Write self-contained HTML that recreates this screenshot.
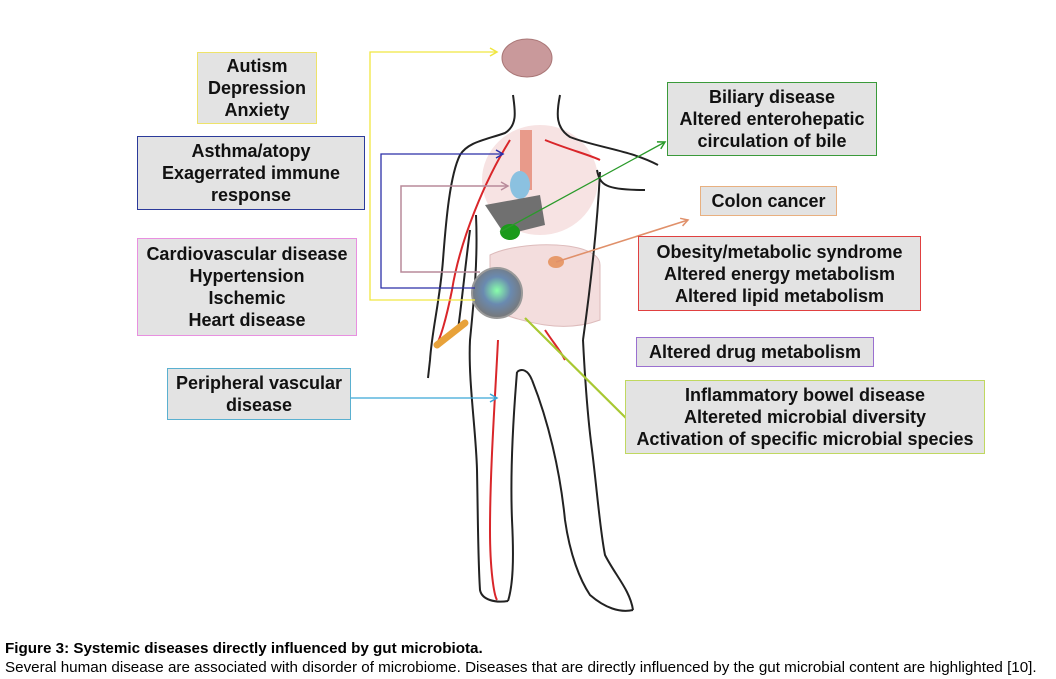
<!DOCTYPE html>
<html><head><meta charset="utf-8"><style>
body{margin:0;width:1056px;height:679px;background:#fff;position:relative;overflow:hidden;font-family:"Liberation Sans",Arial,sans-serif}
.b{position:absolute;box-sizing:border-box;background:#e3e3e3;border:1.5px solid;font-weight:bold;font-size:18px;line-height:22px;text-align:center;color:#111;display:flex;flex-direction:column;justify-content:center;white-space:nowrap}
svg{position:absolute;left:0;top:0}
.cap{position:absolute;left:5px;font-size:15.2px;color:#000;white-space:nowrap}
</style></head><body>
<svg width="1056" height="679" viewBox="0 0 1056 679">
<defs>
<marker id="a" markerWidth="10" markerHeight="10" refX="8" refY="5" orient="auto" markerUnits="userSpaceOnUse"><path d="M1,1 L8,5 L1,9" fill="none" stroke="context-stroke" stroke-width="1.5"/></marker>
<radialGradient id="lens" cx="50%" cy="45%" r="55%"><stop offset="0" stop-color="#8fa"/><stop offset="0.5" stop-color="#6a8ab0"/><stop offset="1" stop-color="#777"/></radialGradient>
</defs>
<ellipse cx="527" cy="58" rx="25" ry="19" fill="#c9999b" stroke="#a77" />
<ellipse cx="540" cy="180" rx="58" ry="55" fill="#f7e3e3"/>
<rect x="520" y="130" width="12" height="60" fill="#e89a8a"/>
<ellipse cx="520" cy="185" rx="10" ry="14" fill="#8bc1e0"/>
<path d="M485,205 L540,195 L545,225 L505,235 Z" fill="#707070"/>
<ellipse cx="510" cy="232" rx="10" ry="8" fill="#1a9a1a"/>
<path d="M490,255 C520,240 600,240 600,265 L600,320 C560,335 520,320 490,310 Z" fill="#f3dddd" stroke="#dbb" />
<ellipse cx="556" cy="262" rx="8" ry="6" fill="#e79a6b"/>
<g fill="none" stroke="#d9262a" stroke-width="2">
<path d="M510,140 C485,180 460,240 452,290 C446,320 440,340 436,345"/>
<path d="M545,140 C570,150 590,155 600,160"/>
<path d="M498,340 C495,400 490,470 490,530 C490,570 494,595 497,600"/>
<path d="M545,330 C555,345 560,350 565,360"/>
</g>
<g fill="none" stroke="#222" stroke-width="2">
<path d="M513,95 C515,110 518,125 505,133 C485,140 468,142 460,155 C450,175 446,220 443,260 C440,300 432,330 430,360 L428,378"/>
<path d="M470,230 C466,260 462,300 458,330"/>
<path d="M476,215 C478,260 474,300 470,340 C468,380 476,430 477,470 C478,520 478,560 480,590 C482,600 495,603 508,601"/>
<path d="M517,372 C513,420 510,470 512,520 C514,560 513,585 508,601"/>
<path d="M517,372 C522,368 528,370 532,380"/>
<path d="M532,380 C548,420 560,470 565,520 C570,555 580,580 590,595 C605,608 620,613 633,610"/>
<path d="M583,340 C585,380 588,420 592,450 C597,490 600,530 605,555 C615,575 630,590 633,610"/>
<path d="M600,172 C597,230 590,290 583,340"/>
<path d="M560,95 C556,115 556,128 570,137 C595,147 630,150 658,165"/>
<path d="M597,170 C600,185 605,190 645,190"/>
</g>
<circle cx="497" cy="293" r="25" fill="url(#lens)" stroke="#999" stroke-width="2"/>
<path d="M465,323 L437,345" stroke="#e8a23a" stroke-width="7" stroke-linecap="round"/>
<g fill="none" stroke-width="1.3">
<path d="M475,300 L370,300 L370,52 L497,52" stroke="#f0e640" marker-end="url(#a)"/>
<path d="M475,288 L381,288 L381,154 L503,154" stroke="#2b2fa8" marker-end="url(#a)"/>
<path d="M480,272 L401,272 L401,186 L508,186" stroke="#b88a9a" stroke-width="1.5" marker-end="url(#a)"/>
<path d="M500,232 L665,142" stroke="#2a9a2a" marker-end="url(#a)"/>
<path d="M556,262 L688,220" stroke="#e0906a" stroke-width="1.6" marker-end="url(#a)"/>
<path d="M350,398 L497,398" stroke="#3aa6d8" marker-end="url(#a)"/>
<path d="M525,318 L636,428" stroke="#a8c832" stroke-width="2.2" marker-end="url(#a)"/>
</g>
</svg>
<div class="b" style="left:197px;top:52px;width:120px;height:72px;border-color:#eee36a">Autism<br>Depression<br>Anxiety</div>
<div class="b" style="left:137px;top:136px;width:228px;height:74px;border-color:#2b3a9a">Asthma/atopy<br>Exagerrated immune<br>response</div>
<div class="b" style="left:137px;top:238px;width:220px;height:98px;border-color:#e890e0">Cardiovascular disease<br>Hypertension<br>Ischemic<br>Heart disease</div>
<div class="b" style="left:167px;top:368px;width:184px;height:52px;border-color:#5ab0d0">Peripheral vascular<br>disease</div>
<div class="b" style="left:667px;top:82px;width:210px;height:74px;border-color:#3a9a3a">Biliary disease<br>Altered enterohepatic<br>circulation of bile</div>
<div class="b" style="left:700px;top:186px;width:137px;height:30px;border-color:#e8b080">Colon cancer</div>
<div class="b" style="left:638px;top:236px;width:283px;height:75px;border-color:#e04040">Obesity/metabolic syndrome<br>Altered energy metabolism<br>Altered lipid metabolism</div>
<div class="b" style="left:636px;top:337px;width:238px;height:30px;border-color:#9a70d0">Altered drug metabolism</div>
<div class="b" style="left:625px;top:380px;width:360px;height:74px;border-color:#c0d860">Inflammatory bowel disease<br>Altereted microbial diversity<br>Activation of specific microbial species</div>
<div class="cap" style="top:640px;font-weight:bold">Figure 3: Systemic diseases directly influenced by gut microbiota.</div>
<div class="cap" style="top:659px">Several human disease are associated with disorder of microbiome. Diseases that are directly influenced by the gut microbial content are highlighted [10].</div>
</body></html>
